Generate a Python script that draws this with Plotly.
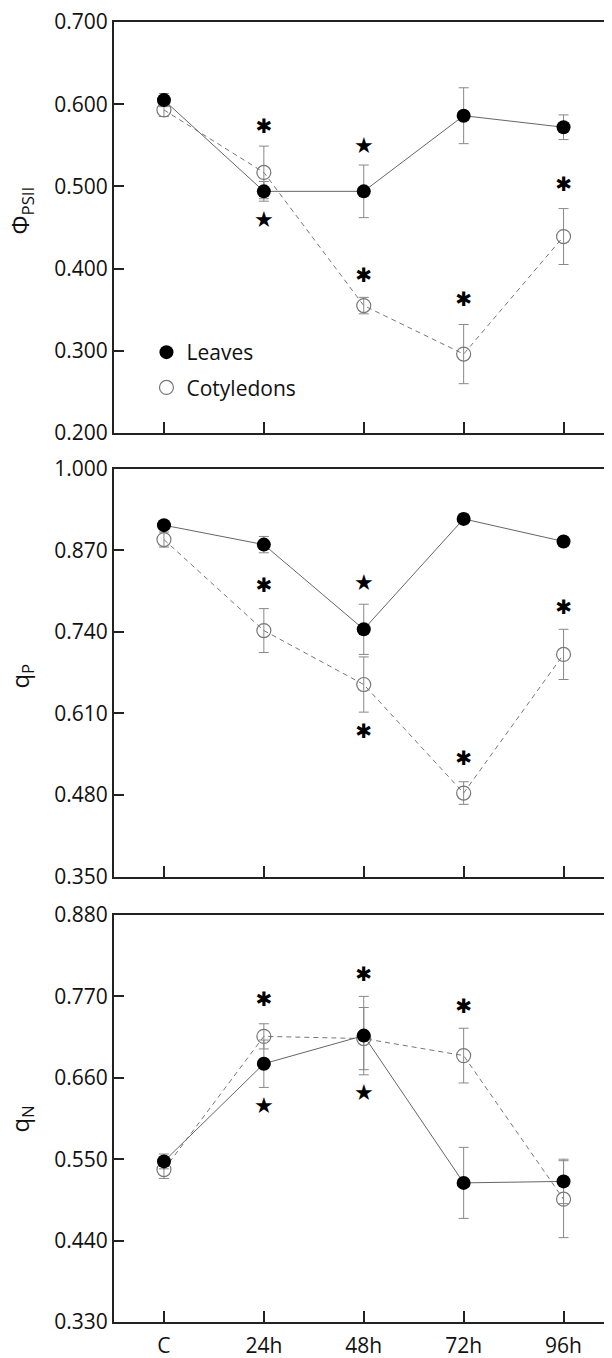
import plotly.graph_objects as go

categories = ["C", "24h", "48h", "72h", "96h"]

# Panel 1: PhiPSII
phi_leaves = [0.605, 0.494, 0.494, 0.586, 0.572]
phi_leaves_err = [0.008, 0.012, 0.032, 0.034, 0.015]
phi_cot = [0.593, 0.517, 0.355, 0.296, 0.439]
phi_cot_err = [0.008, 0.032, 0.010, 0.036, 0.034]
phi_ticks = [0.2, 0.3, 0.4, 0.5, 0.6, 0.7]
phi_ast_x = ["24h", "48h", "72h", "96h"]
phi_ast_y = [0.571, 0.390, 0.360, 0.500]
phi_star_x = ["24h", "48h"]
phi_star_y = [0.457, 0.547]

# Panel 2: qP
qp_leaves = [0.910, 0.879, 0.744, 0.920, 0.884]
qp_leaves_err = [0.006, 0.013, 0.040, 0.008, 0.004]
qp_cot = [0.887, 0.742, 0.656, 0.483, 0.704]
qp_cot_err = [0.012, 0.035, 0.044, 0.018, 0.040]
qp_ticks = [0.35, 0.48, 0.61, 0.74, 0.87, 1.0]
qp_ast_x = ["24h", "48h", "72h", "96h"]
qp_ast_y = [0.811, 0.578, 0.535, 0.777]
qp_star_x = ["48h"]
qp_star_y = [0.815]

# Panel 3: qN
qn_leaves = [0.547, 0.679, 0.717, 0.518, 0.520]
qn_leaves_err = [0.010, 0.032, 0.053, 0.048, 0.030]
qn_cot = [0.536, 0.716, 0.713, 0.690, 0.496]
qn_cot_err = [0.012, 0.017, 0.042, 0.037, 0.052]
qn_ticks = [0.33, 0.44, 0.55, 0.66, 0.77, 0.88]
qn_ast_x = ["24h", "48h", "72h"]
qn_ast_y = [0.764, 0.798, 0.755]
qn_star_x = ["24h", "48h"]
qn_star_y = [0.620, 0.638]

# page has an 8px body margin, so the figure is laid out 8px up/left
OFF = 8
W, H = 612 - OFF, 1358 - OFF
ML = 113.5 - OFF
PB = 1322 - OFF          # bottom of plot area (figure px)
MB = H - PB
PH = PB

def frac(px_page):
    return (PH - (px_page - OFF)) / PH

domains = [
    [frac(433), frac(22)],
    [frac(876.5), frac(468.7)],
    [0.0, frac(915)],
]

PX_PER_CAT = 100.0
x_range = [-0.5, -0.5 + (W - ML) / PX_PER_CAT]

FONT = "Open Sans"
LINE_C = "#666666"
ERR_C = "#888888"

panels = [
    (phi_leaves, phi_leaves_err, phi_cot, phi_cot_err, phi_ticks,
     phi_ast_x, phi_ast_y, phi_star_x, phi_star_y, [0.2, 0.7]),
    (qp_leaves, qp_leaves_err, qp_cot, qp_cot_err, qp_ticks,
     qp_ast_x, qp_ast_y, qp_star_x, qp_star_y, [0.35, 1.0]),
    (qn_leaves, qn_leaves_err, qn_cot, qn_cot_err, qn_ticks,
     qn_ast_x, qn_ast_y, qn_star_x, qn_star_y, [0.33, 0.88]),
]

fig = go.Figure()

for i, (lv, lve, cv, cve, ticks, ax, ay, sx, sy, yr) in enumerate(panels):
    n = "" if i == 0 else str(i + 1)
    xa, ya = "x" + n, "y" + n
    # lines
    fig.add_trace(go.Scatter(x=categories, y=cv, mode="lines",
                             line=dict(color="#777777", width=1, dash="5px,4px"),
                             xaxis=xa, yaxis=ya, showlegend=False, hoverinfo="skip"))
    fig.add_trace(go.Scatter(x=categories, y=lv, mode="lines",
                             line=dict(color=LINE_C, width=1),
                             xaxis=xa, yaxis=ya, showlegend=False, hoverinfo="skip"))
    # markers with error bars
    fig.add_trace(go.Scatter(x=categories, y=cv, mode="markers", name="Cotyledons",
                             legendgroup="cot", legendrank=2,
                             marker=dict(symbol="circle-open", size=14, color="#777777",
                                         line=dict(width=1.2, color="#777777")),
                             error_y=dict(type="data", array=cve, color=ERR_C,
                                          thickness=1, width=5),
                             xaxis=xa, yaxis=ya, showlegend=(i == 0)))
    fig.add_trace(go.Scatter(x=categories, y=lv, mode="markers", name="Leaves",
                             legendgroup="leaves", legendrank=1,
                             marker=dict(symbol="circle", size=14, color="black"),
                             error_y=dict(type="data", array=lve, color=ERR_C,
                                          thickness=1, width=5),
                             xaxis=xa, yaxis=ya, showlegend=(i == 0)))
    # significance marks
    fig.add_trace(go.Scatter(x=ax, y=ay, mode="text", text=["\u2731"] * len(ax),
                             textfont=dict(family="DejaVu Sans", size=20, color="black"),
                             xaxis=xa, yaxis=ya, showlegend=False, hoverinfo="skip"))
    fig.add_trace(go.Scatter(x=sx, y=sy, mode="text", text=["\u2605"] * len(sx),
                             textfont=dict(family="DejaVu Sans", size=22, color="black"),
                             xaxis=xa, yaxis=ya, showlegend=False, hoverinfo="skip"))

    fig.update_layout(**{
        "xaxis" + n: dict(domain=[0, 1], anchor=ya, type="category", automargin=False,
                          range=x_range, tickvals=categories, ticktext=categories,
                          showticklabels=(i == 2), ticks="inside", ticklen=11,
                          tickwidth=1.5, tickcolor="#222222",
                          showline=True, linecolor="#222222", linewidth=2,
                          mirror=True, showgrid=False, zeroline=False,
                          tickfont=dict(family=FONT, size=21, color="#111111"),
                          ticklabelstandoff=4, ticklabeloverflow="allow"),
        "yaxis" + n: dict(domain=domains[i], anchor=xa, range=yr, automargin=False,
                          tickvals=ticks, tickformat=".3f",
                          ticks="inside", ticklen=10, tickwidth=1.5,
                          tickcolor="#222222", showline=True, linecolor="#222222",
                          linewidth=2, showgrid=False, zeroline=False,
                          ticklabeloverflow="allow",
                          tickfont=dict(family=FONT, size=21, color="#111111")),
    })

titles = ["\u03a6<sub>PSII</sub>", "q<sub>P</sub>", "q<sub>N</sub>"]
title_y = [frac(211), frac(676), frac(1119)]
for t, yy in zip(titles, title_y):
    fig.add_annotation(text=t, xref="paper", yref="paper",
                       x=(20 - OFF - ML) / (W - ML),
                       y=yy, xanchor="center", yanchor="middle", textangle=-90,
                       showarrow=False, font=dict(family=FONT, size=24, color="#111111"))

fig.update_layout(
    width=W, height=H,
    margin=dict(l=ML, r=0, t=0, b=MB, autoexpand=False),
    paper_bgcolor="white", plot_bgcolor="white",
    legend=dict(x=(164 - OFF - 18 - ML) / (W - ML), y=frac(370), xanchor="left",
                yanchor="middle", bgcolor="rgba(0,0,0,0)", tracegroupgap=5,
                font=dict(family=FONT, size=21, color="#111111")),
)

fig.write_html("out.html")
